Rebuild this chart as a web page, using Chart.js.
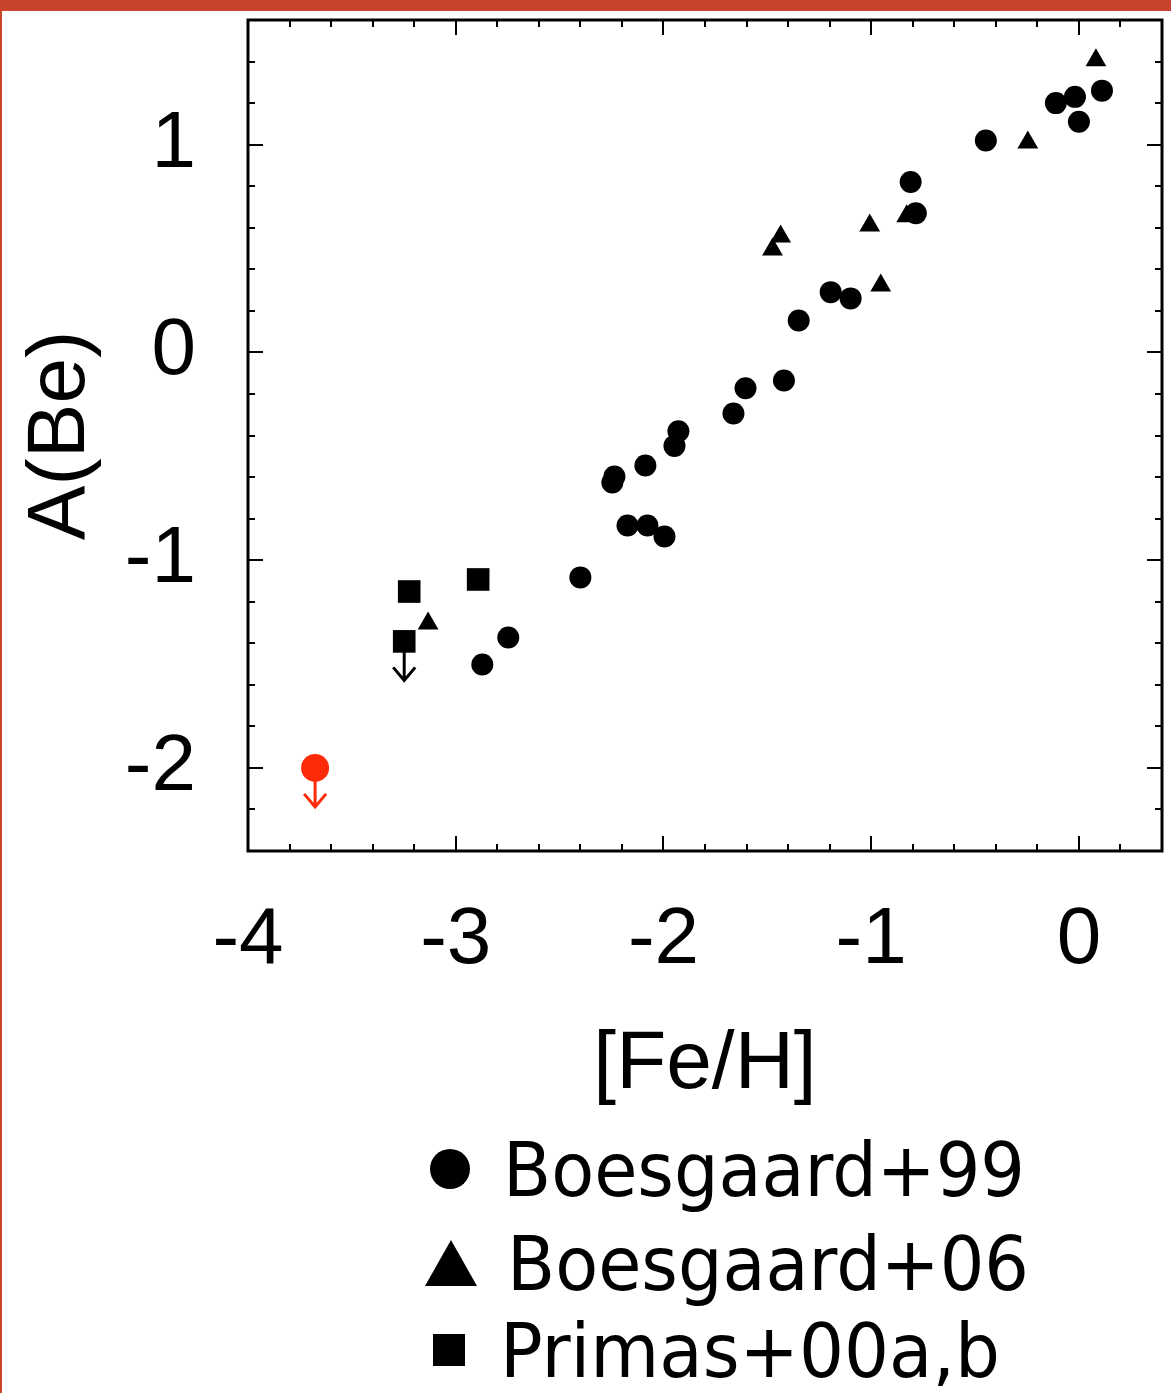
<!DOCTYPE html>
<html>
<head>
<meta charset="utf-8">
<script src="https://cdn.jsdelivr.net/npm/chart.js@4/dist/chart.umd.min.js"></script>
<style>
  html, body { margin: 0; padding: 0; background: #fff; }
</style>
</head>
<body>
<canvas id="graficoBe" width="1171" height="1393"></canvas>
<script>
// Boesgaard+99 (circles)
const b99Fe = [-0.448, -0.111, -0.019, 0.0, 0.111, -0.81, -0.785, -1.195, -1.099, -1.349, -1.42, -1.605,
  -1.663, -1.928, -1.947, -2.087, -2.236, -2.246, -2.173, -2.077, -1.995, -2.40, -2.747, -2.872];
const b99Be = [1.02, 1.20, 1.23, 1.11, 1.26, 0.82, 0.67, 0.29, 0.26, 0.154, -0.135, -0.173,
  -0.294, -0.38, -0.45, -0.544, -0.597, -0.626, -0.833, -0.833, -0.886, -1.083, -1.372, -1.502];

// Boesgaard+06 (triangles)
const b06Fe = [0.082, -0.246, -1.007, -1.436, -1.475, -0.954, -0.829, -3.133];
const b06Be = [1.406, 1.01, 0.611, 0.558, 0.495, 0.322, 0.655, -1.305];

// Primas+00a,b (squares); last one is an upper limit
const primasFe = [-3.224, -2.892, -3.248];
const primasBe = [-1.151, -1.093, -1.391];
const primasLimit = [false, false, true];

// new star, upper limit (red)
const newStarFe = [-3.677];
const newStarBe = [-2.0];
const newStarLimit = [true];

const xTickValues = [-4, -3, -2, -1, 0];
const yTickValues = [-2, -1, 0, 1];
const legendLabels = ["Boesgaard+99", "Boesgaard+06", "Primas+00a,b"];

const toPoints = (xs, ys) => xs.map((x, i) => ({ x, y: ys[i] }));

const pageDecor = {
  id: "pageDecor",
  beforeDraw(chart) {
    const { ctx, width, height } = chart;
    ctx.save();
    ctx.fillStyle = "#ffffff";
    ctx.fillRect(0, 0, width, height);
    ctx.fillStyle = "#c9442d";
    ctx.fillRect(0, 0, width, 11);
    ctx.fillRect(0, 0, 2, height);
    ctx.restore();
  }
};

const frameTicks = {
  id: "frameTicks",
  afterDatasetsDraw(chart) {
    const { ctx, chartArea: a, scales: { x, y } } = chart;
    ctx.save();
    ctx.strokeStyle = "#000";
    ctx.lineWidth = 2;
    ctx.beginPath();
    for (let i = 0; ; i++) {
      const v = x.min + i * 0.2;
      if (v > x.max + 1e-6) break;
      const len = Math.abs(v - Math.round(v)) < 1e-6 ? 15 : 7;
      const px = Math.round(x.getPixelForValue(v));
      ctx.moveTo(px, a.bottom); ctx.lineTo(px, a.bottom - len);
      ctx.moveTo(px, a.top); ctx.lineTo(px, a.top + len);
    }
    for (let i = 0; ; i++) {
      const v = y.min + i * 0.2;
      if (v > y.max + 1e-6) break;
      const len = Math.abs(v - Math.round(v)) < 1e-6 ? 15 : 7;
      const py = Math.round(y.getPixelForValue(v));
      ctx.moveTo(a.left, py); ctx.lineTo(a.left + len, py);
      ctx.moveTo(a.right, py); ctx.lineTo(a.right - len, py);
    }
    ctx.stroke();
    ctx.lineWidth = 3;
    ctx.strokeRect(a.left, a.top, a.right - a.left, a.bottom - a.top);
    ctx.restore();
  }
};

const upperLimits = {
  id: "upperLimits",
  afterDatasetsDraw(chart) {
    const ctx = chart.ctx;
    chart.data.datasets.forEach((ds, i) => {
      if (!ds.upperLimit) return;
      const meta = chart.getDatasetMeta(i);
      meta.data.forEach((pt, j) => {
        if (!ds.upperLimit[j]) return;
        const tip = pt.y + 39;
        ctx.save();
        ctx.strokeStyle = ds.backgroundColor;
        ctx.lineWidth = 3;
        ctx.beginPath();
        ctx.moveTo(pt.x, pt.y + 8);
        ctx.lineTo(pt.x, tip);
        ctx.moveTo(pt.x - 11, tip - 13);
        ctx.lineTo(pt.x, tip);
        ctx.lineTo(pt.x + 11, tip - 13);
        ctx.stroke();
        ctx.restore();
      });
    });
  }
};

const customLegend = {
  id: "customLegend",
  afterDraw(chart) {
    const ctx = chart.ctx;
    ctx.save();
    ctx.fillStyle = "#000";
    // circle
    ctx.beginPath();
    ctx.arc(450, 1169, 20, 0, Math.PI * 2);
    ctx.fill();
    // triangle
    ctx.beginPath();
    ctx.moveTo(451, 1240);
    ctx.lineTo(477, 1286);
    ctx.lineTo(425, 1286);
    ctx.closePath();
    ctx.fill();
    // square
    ctx.fillRect(433, 1334, 32, 32);

    ctx.font = '75px "DejaVu Sans", sans-serif';
    ctx.textBaseline = "alphabetic";
    ctx.fillText(legendLabels[0], 503, 1196, 522);
    ctx.fillText(legendLabels[1], 507, 1290, 522);
    ctx.fillText(legendLabels[2], 500, 1377, 500);
    ctx.restore();
  }
};

const tickFont = { family: '"Liberation Sans", Arial, sans-serif', size: 80, lineHeight: 1.2 };
const titleFont = { family: '"Liberation Sans", Arial, sans-serif', size: 82, lineHeight: 1 };

const zeroPadding = s => {
  s.paddingTop = 0; s.paddingBottom = 0; s.paddingLeft = 0; s.paddingRight = 0;
};

new Chart(document.getElementById("graficoBe").getContext("2d"), {
  type: "scatter",
  data: {
    datasets: [
      {
        label: legendLabels[0],
        data: toPoints(b99Fe, b99Be),
        pointStyle: "circle",
        pointRadius: 11,
        backgroundColor: "#000",
        borderWidth: 0
      },
      {
        label: legendLabels[1],
        data: toPoints(b06Fe, b06Be),
        pointStyle: "triangle",
        pointRadius: 12,
        backgroundColor: "#000",
        borderWidth: 0
      },
      {
        label: legendLabels[2],
        data: toPoints(primasFe, primasBe),
        pointStyle: "rect",
        pointRadius: 16,
        backgroundColor: "#000",
        borderWidth: 0,
        upperLimit: primasLimit
      },
      {
        label: "new",
        data: toPoints(newStarFe, newStarBe),
        pointStyle: "circle",
        pointRadius: 14,
        backgroundColor: "#fe2b08",
        borderWidth: 0,
        upperLimit: newStarLimit
      }
    ]
  },
  options: {
    responsive: false,
    animation: false,
    events: [],
    layout: { autoPadding: false, padding: { left: 0, top: 20, right: 9, bottom: 283 } },
    plugins: {
      legend: { display: false },
      tooltip: { enabled: false }
    },
    scales: {
      x: {
        type: "linear",
        min: -4,
        max: 0.4,
        grid: { display: false },
        border: { display: false },
        afterBuildTicks: s => { s.ticks = xTickValues.map(v => ({ value: v })); },
        afterFit: s => { s.height = 259; zeroPadding(s); },
        ticks: {
          color: "#000",
          font: tickFont,
          padding: 34,
          maxRotation: 0,
          autoSkip: false,
          callback: v => String(v)
        },
        title: {
          display: true,
          text: "[Fe/H]",
          color: "#000",
          font: titleFont,
          padding: { top: 0, bottom: 4 }
        }
      },
      y: {
        type: "linear",
        min: -2.4,
        max: 1.6,
        grid: { display: false },
        border: { display: false },
        afterBuildTicks: s => { s.ticks = yTickValues.map(v => ({ value: v })); },
        afterFit: s => { s.width = 248; zeroPadding(s); },
        ticks: {
          color: "#000",
          font: tickFont,
          padding: 44,
          autoSkip: false,
          callback: v => String(v)
        },
        title: {
          display: true,
          text: "A(Be)",
          color: "#000",
          font: titleFont,
          padding: { top: 20, bottom: 0 }
        }
      }
    }
  },
  plugins: [pageDecor, frameTicks, upperLimits, customLegend]
});
</script>
</body>
</html>
